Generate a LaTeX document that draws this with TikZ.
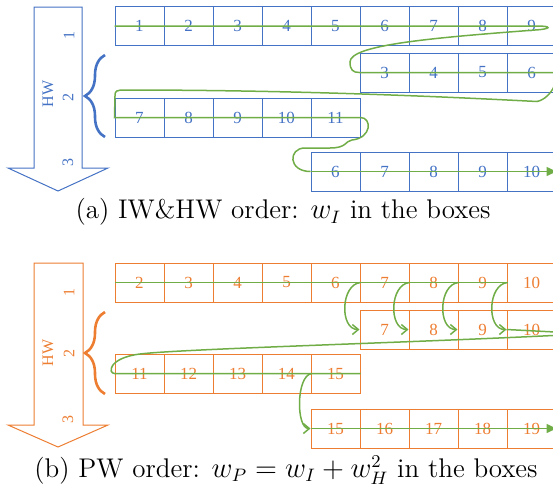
\documentclass[tikz,border=0pt]{standalone}
\usepackage{amssymb,amsmath}
\usepackage{fontspec}
\usepackage{tikz}
\usetikzlibrary{arrows.meta,calc,positioning,decorations.pathreplacing}
\newfontfamily\cellfont{Liberation Serif}
\definecolor{hwblue}{HTML}{4472C4}
\definecolor{pworange}{HTML}{ED7D31}
\definecolor{flowgreen}{HTML}{70AD47}
\tikzset{
  cellbox/.style={draw, line width=0.5pt, minimum width=24.5pt, minimum height=19.5pt,
    inner sep=0pt, font=\cellfont\fontsize{8.5}{10}\selectfont},
  cellA/.style={cellbox, draw=hwblue, text=hwblue},
  cellB/.style={cellbox, draw=pworange, text=pworange},
  hwtag/.style={rotate=90, inner sep=0pt, font=\cellfont\fontsize{8}{9}\selectfont},
  flow/.style={draw=flowgreen, line width=0.75pt},
  bigbrace/.style={decorate, decoration={brace, amplitude=10pt}, line width=1.3pt},
}

\begin{document}
\begin{tikzpicture}[x=0.5pt,y=-0.5pt]
\useasboundingbox (0,0) rectangle (553,489);
% (a) IW & HW order
\draw[hwblue, line width=0.5pt] (34,7) -- (82,7) -- (82,168) -- (108,168) -- (58,191) -- (8,168) -- (34,168) -- cycle;
\node[hwtag, text=hwblue] (hwA) at (48,94) {HW};
\node[hwtag, text=hwblue] (hA1) at (69,35) {1};
\node[hwtag, text=hwblue] (hA2) at (68,97) {2};
\node[hwtag, text=hwblue] (hA3) at (68,162) {3};
\draw[bigbrace, hwblue] (105,137) -- (105,55);
\foreach \n [count=\i] in {1,...,9} \node[cellA] (a1-\i) at (90.5+49*\i,26) {\n};
\foreach \n [count=\i] in {3,...,6} \node[cellA] (a2-\i) at (335.5+49*\i,72.5) {\n};
\foreach \n [count=\i] in {7,...,11} \node[cellA] (a3-\i) at (90.5+49*\i,117.5) {\n};
\foreach \n [count=\i] in {6,...,10} \node[cellA] (a4-\i) at (286.5+49*\i,171.5) {\n};
\draw[flow] (a1-1.west) -- (537,26) .. controls (552,26) and (552,29) .. (535,30)
  .. controls (430,38) and (350,45) .. (350,62) .. controls (350,70) and (353,72.5) .. (a2-1.west)
  -- (a2-4.east) .. controls (560,75) and (553,98) .. (537,101.5)
  .. controls (450,97) and (300,90) .. (125,90) .. controls (116,90) and (115,91) .. (115,96)
  -- (a3-1.west) -- (a3-5.east) .. controls (372,117.5) and (372,138) .. (352,140)
  .. controls (345,141) and (347,148) .. (330,148) -- (305,148)
  .. controls (288,148) and (288,171.5) .. (a4-1.west);
\draw[flow, -{Triangle[length=5pt,width=4.5pt]}] (a4-1.west) -- (a4-5.east);
\node[font=\fontsize{13.5}{16}\selectfont] (capA) at (283,212) {(a) IW\&HW order: $w_I$ in the boxes};
% (b) PW order
\draw[pworange, line width=0.5pt] (34,263) -- (83,263) -- (83,425) -- (108,425) -- (58,447) -- (8,425) -- (34,425) -- cycle;
\node[hwtag, text=pworange] (hwB) at (48,353) {HW};
\node[hwtag, text=pworange] (hB1) at (69,292) {1};
\node[hwtag, text=pworange] (hB2) at (69,353) {2};
\node[hwtag, text=pworange] (hB3) at (68,419) {3};
\draw[bigbrace, pworange] (105,394) -- (105,312);
\foreach \n [count=\i] in {2,...,10} \node[cellB] (b1-\i) at (90.5+49*\i,282.5) {\n};
\foreach \n [count=\i] in {7,...,10} \node[cellB] (b2-\i) at (335.5+49*\i,329.5) {\n};
\foreach \n [count=\i] in {11,...,15} \node[cellB] (b3-\i) at (90.5+49*\i,373.5) {\n};
\foreach \n [count=\i] in {15,...,19} \node[cellB] (b4-\i) at (286.5+49*\i,428.5) {\n};
\draw[flow] (b1-1.west) -- (b1-8.east);
\foreach \i/\j in {5/1,6/2,7/3,8/4}
  \draw[flow, -{Straight Barb[length=3pt,width=5pt]}] (b1-\i.east) .. controls +(-20,2) and +(-20,0) .. (b2-\j.west);
\draw[flow] (b2-4.west) -- (555,332) .. controls (565,332.5) and (565,334.5) .. (553,335.5)
  .. controls (400,343) and (180,349) .. (140,354) .. controls (108,358) and (108,373.5) .. (b3-1.west)
  -- (b3-5.east);
\draw[flow, -{Straight Barb[length=3pt,width=5pt]}] (b3-4.east) .. controls (296,376) and (296,428.5) .. (b4-1.west);
\draw[flow, -{Triangle[length=5pt,width=4.5pt]}] (b4-1.west) -- (b4-5.east);
\node[font=\fontsize{13.5}{16}\selectfont] (capB) at (286,470) {(b) PW order: $w_P = w_I + w_H^2$ in the boxes};
\end{tikzpicture}
\end{document}
